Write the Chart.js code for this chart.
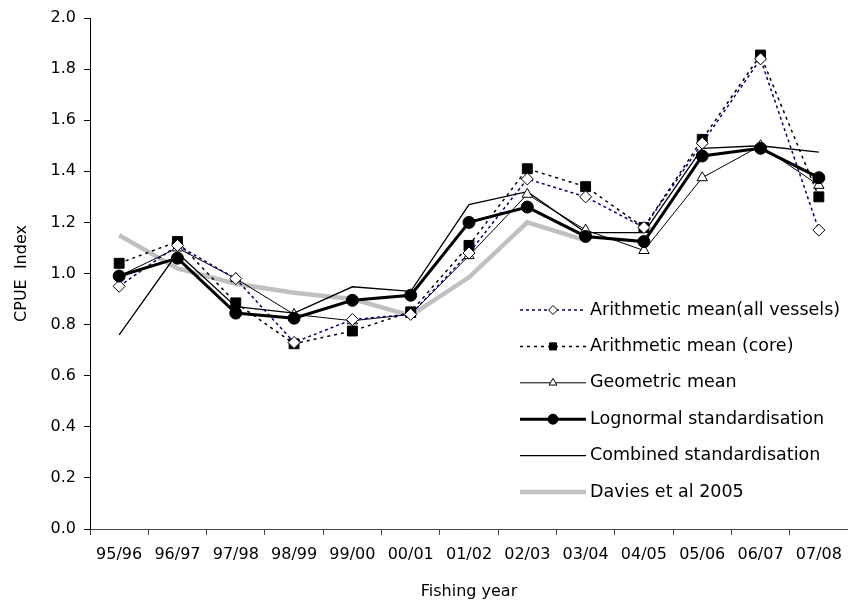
<!DOCTYPE html>
<html>
<head>
<meta charset="utf-8">
<script src="https://cdn.jsdelivr.net/npm/chart.js@4.4.0/dist/chart.umd.min.js"></script>
<style>
  html, body { margin: 0; padding: 0; background: #fff; overflow: hidden; }
  #wrap { width: 856px; height: 607px; }
</style>
</head>
<body>
<div id="wrap"><canvas id="cpue"></canvas></div>
<script>
// fishing years on the x axis
const years = ['95/96', '96/97', '97/98', '98/99', '99/00', '00/01', '01/02', '02/03', '03/04', '04/05', '05/06', '06/07', '07/08'];

// CPUE index series
const arithAll  = [0.95, 1.11, 0.98, 0.73, 0.82, 0.84, 1.08, 1.37, 1.30, 1.18, 1.51, 1.84, 1.17];
const arithCore = [1.04, 1.125, 0.885, 0.725, 0.775, 0.85, 1.11, 1.41, 1.34, 1.18, 1.525, 1.855, 1.30];
const geoMean   = [0.99, 1.10, 0.98, 0.84, 0.815, 0.84, 1.07, 1.31, 1.17, 1.09, 1.375, 1.50, 1.345];
const lognormal = [0.99, 1.06, 0.845, 0.825, 0.895, 0.915, 1.20, 1.26, 1.145, 1.125, 1.46, 1.49, 1.375];
const combined  = [0.76, 1.08, 0.87, 0.845, 0.948, 0.93, 1.27, 1.32, 1.16, 1.16, 1.49, 1.50, 1.475];
const davies    = [1.15, 1.02, 0.96, 0.925, 0.90, 0.835, 0.985, 1.20, 1.13, null, null, null, null];

const yTicks = [0.0, 0.2, 0.4, 0.6, 0.8, 1.0, 1.2, 1.4, 1.6, 1.8, 2.0];

const FONT = '"DejaVu Sans", sans-serif';

const datasets = [
  {
    label: 'Arithmetic mean(all vessels)', data: arithAll,
    borderColor: '#000080', borderWidth: 1.5, borderDash: [3, 3],
    pointStyle: 'rectRot', pointRadius: 6, pointBackgroundColor: '#fff',
    pointBorderColor: '#000', pointBorderWidth: 1, legendRadius: 4.5, order: 2
  },
  {
    label: 'Arithmetic mean (core)', data: arithCore,
    borderColor: '#000', borderWidth: 1.5, borderDash: [3, 4],
    pointStyle: 'rect', pointRadius: 7, pointBackgroundColor: '#000',
    pointBorderColor: '#000', pointBorderWidth: 1, legendRadius: 5, order: 3
  },
  {
    label: 'Geometric mean', data: geoMean,
    borderColor: '#000', borderWidth: 1,
    pointStyle: 'triangle', pointRadius: 6, pointBackgroundColor: '#fff',
    pointBorderColor: '#000', pointBorderWidth: 1, legendRadius: 4.5, order: 4
  },
  {
    label: 'Lognormal standardisation', data: lognormal,
    borderColor: '#000', borderWidth: 3,
    pointStyle: 'circle', pointRadius: 6, pointBackgroundColor: '#000',
    pointBorderColor: '#000', pointBorderWidth: 1, legendRadius: 5, order: 1
  },
  {
    label: 'Combined standardisation', data: combined,
    borderColor: '#000', borderWidth: 1.3, pointRadius: 0, order: 5
  },
  {
    label: 'Davies et al 2005', data: davies,
    borderColor: '#c0c0c0', borderWidth: 4.5, pointRadius: 0, order: 9
  }
];

// legend drawn inside the plot, line sample + marker + text
const insideLegend = {
  id: 'insideLegend',
  afterDraw(chart) {
    const ctx = chart.ctx;
    const x0 = 520, x1 = 586, tx = 590;
    ctx.save();
    datasets.forEach((ds, i) => {
      const y = 310 + i * 36.4;
      ctx.beginPath();
      ctx.setLineDash(ds.borderDash || []);
      ctx.lineWidth = ds.borderWidth;
      ctx.strokeStyle = ds.borderColor;
      ctx.moveTo(x0, y);
      ctx.lineTo(x1, y);
      ctx.stroke();
      ctx.setLineDash([]);
      if (ds.pointRadius > 0) {
        ctx.fillStyle = ds.pointBackgroundColor;
        ctx.strokeStyle = ds.pointBorderColor;
        ctx.lineWidth = ds.pointBorderWidth;
        Chart.helpers.drawPoint(ctx, {
          pointStyle: ds.pointStyle, radius: ds.legendRadius,
          borderWidth: ds.pointBorderWidth, rotation: 0
        }, (x0 + x1) / 2, y);
      }
      ctx.fillStyle = '#000';
      ctx.font = '17.5px ' + FONT;
      ctx.textAlign = 'left';
      ctx.textBaseline = 'middle';
      ctx.fillText(ds.label, tx, y);
    });
    ctx.restore();
  }
};

new Chart(document.getElementById('cpue').getContext('2d'), {
  type: 'line',
  data: { labels: years, datasets: datasets },
  options: {
    responsive: true,
    maintainAspectRatio: false,
    animation: false,
    layout: { padding: { top: 18, right: 0, left: 0, bottom: 0 } },
    elements: { line: { tension: 0, fill: false } },
    scales: {
      x: {
        type: 'category',
        offset: true,
        grid: { offset: true, drawOnChartArea: false, tickLength: 6, color: '#444' },
        border: { color: '#444', width: 1 },
        ticks: { color: '#000', font: { family: FONT, size: 16 }, padding: 10, maxRotation: 0, autoSkip: false },
        title: { display: true, text: 'Fishing year', color: '#000', font: { family: FONT, size: 16 }, padding: { top: 2, bottom: 6 } },
        afterFit(scale) {
          scale.height = 78;
          scale.paddingLeft = 0;
          scale.paddingRight = 0;
        }
      },
      y: {
        min: 0, max: 2,
        afterBuildTicks(scale) { scale.ticks = yTicks.map(v => ({ value: v })); },
        grid: { drawOnChartArea: false, tickLength: 6, color: '#000' },
        border: { color: '#000', width: 1 },
        ticks: { color: '#000', font: { family: FONT, size: 16 }, padding: 8, callback: v => v.toFixed(1) },
        title: { display: true, text: 'CPUE  Index', color: '#000', font: { family: FONT, size: 16 }, padding: { top: 12, bottom: 0 } },
        afterFit(scale) { scale.width = 90; }
      }
    },
    plugins: {
      legend: { display: false },
      tooltip: { enabled: false }
    }
  },
  plugins: [insideLegend]
});
</script>
</body>
</html>
